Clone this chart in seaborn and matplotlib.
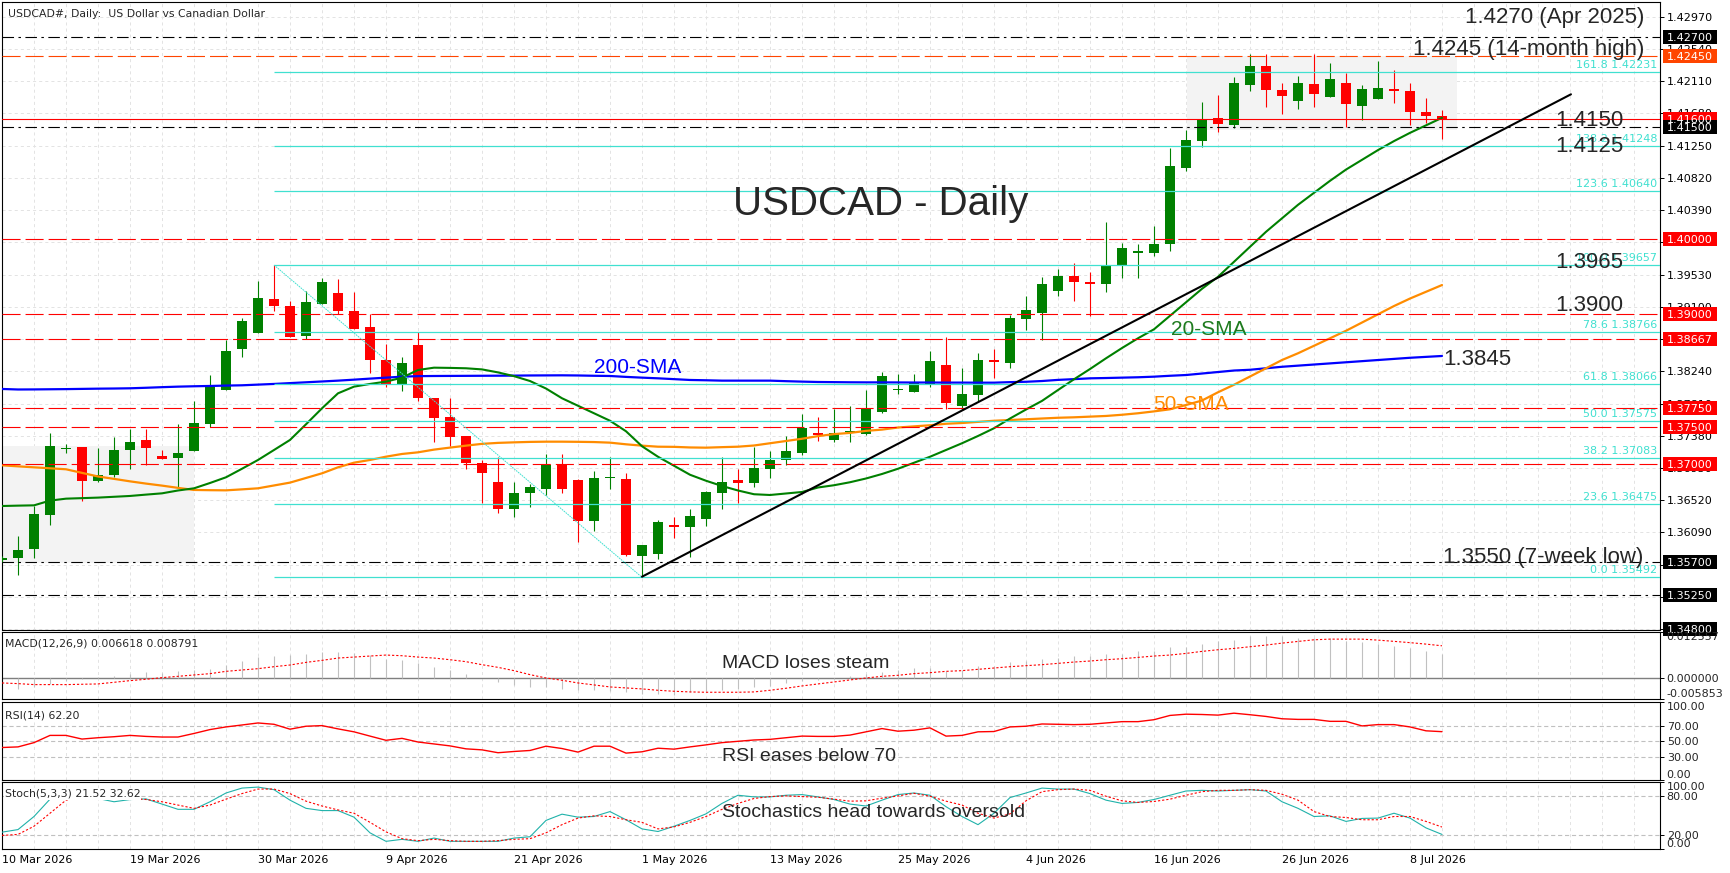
import numpy as np
import pandas as pd
import matplotlib
matplotlib.use("Agg")
import matplotlib.pyplot as plt
import matplotlib.transforms as mtransforms
from matplotlib.patches import Rectangle
import seaborn as sns

sns.set_theme(style="white")
plt.rcParams['font.family'] = ['DejaVu Sans']
plt.rcParams['lines.scale_dashes'] = False

# ---------------- data ----------------
date_labels = ["10 Mar 2026", "19 Mar 2026", "30 Mar 2026", "9 Apr 2026", "21 Apr 2026",
               "1 May 2026", "13 May 2026", "25 May 2026", "4 Jun 2026", "16 Jun 2026",
               "26 Jun 2026", "8 Jul 2026"]
date_label_bars = [0, 8, 16, 24, 32, 40, 48, 56, 64, 72, 80, 88]

opens = [1.35723, 1.35746, 1.35870, 1.36323, 1.37205, 1.37230, 1.36781, 1.36857, 1.37190, 1.37324,
         1.37106, 1.37088, 1.37181, 1.37542, 1.37995, 1.38542, 1.38755, 1.39204, 1.39111, 1.38715,
         1.39142, 1.39284, 1.39044, 1.38831, 1.38391, 1.38071, 1.38591, 1.37888, 1.37634, 1.37377,
         1.37021, 1.36763, 1.36398, 1.36612, 1.36674, 1.36999, 1.36790, 1.36247, 1.36816, 1.36798,
         1.35780, 1.35802, 1.36184, 1.36158, 1.36274, 1.36612, 1.36790, 1.36745, 1.36932, 1.37057,
         1.37146, 1.37421, 1.37323, 1.37426, 1.37404, 1.37702, 1.37991, 1.37960, 1.38057, 1.38324,
         1.37782, 1.37924, 1.38391, 1.38355, 1.38933, 1.39022, 1.39315, 1.39511, 1.39431, 1.39400,
         1.39644, 1.39813, 1.39822, 1.39933, 1.40956, 1.41316, 1.41614, 1.41525, 1.42063, 1.42312,
         1.41992, 1.41849, 1.42072, 1.41894, 1.42089, 1.41783, 1.41867, 1.42000, 1.41978, 1.41703,
         1.41645]
highs = [1.35780, 1.36043, 1.36443, 1.37422, 1.37270, 1.37235, 1.37213, 1.37359, 1.37470, 1.37470,
         1.37190, 1.37537, 1.37844, 1.38191, 1.38657, 1.38951, 1.39449, 1.39658, 1.39178, 1.39315,
         1.39484, 1.39467, 1.39298, 1.39000, 1.38600, 1.38435, 1.38764, 1.37888, 1.37888, 1.37377,
         1.37057, 1.37092, 1.36763, 1.36732, 1.37137, 1.37137, 1.36798, 1.36910, 1.37092, 1.36888,
         1.35922, 1.36256, 1.36291, 1.36398, 1.36643, 1.37092, 1.36937, 1.37234, 1.37177, 1.37377,
         1.37670, 1.37634, 1.37733, 1.37777, 1.37991, 1.38235, 1.38204, 1.38204, 1.38515, 1.38693,
         1.38288, 1.38488, 1.38537, 1.38991, 1.39244, 1.39502, 1.39604, 1.39680, 1.39560, 1.40227,
         1.39947, 1.39938, 1.40178, 1.41223, 1.41458, 1.41836, 1.41925, 1.42160, 1.42467, 1.42467,
         1.42089, 1.42183, 1.42467, 1.42356, 1.42223, 1.42058, 1.42378, 1.42258, 1.42089, 1.41889,
         1.41725]
lows = [1.35700, 1.35523, 1.35754, 1.36190, 1.37146, 1.36515, 1.36768, 1.36835, 1.36935, 1.36986,
        1.37075, 1.36692, 1.37181, 1.37493, 1.37995, 1.38435, 1.38755, 1.39049, 1.38702, 1.38671,
        1.39142, 1.39004, 1.38800, 1.38222, 1.38035, 1.37982, 1.37844, 1.37301, 1.37246, 1.36941,
        1.36488, 1.36345, 1.36301, 1.36425, 1.36585, 1.36621, 1.35967, 1.36113, 1.36665, 1.35776,
        1.35492, 1.35731, 1.36020, 1.35767, 1.36176, 1.36407, 1.36488, 1.36692, 1.36821, 1.36990,
        1.37124, 1.37313, 1.37301, 1.37293, 1.37390, 1.37679, 1.37937, 1.37960, 1.38026, 1.37733,
        1.37724, 1.37844, 1.38146, 1.38280, 1.38791, 1.38657, 1.39249, 1.39182, 1.38982, 1.39302,
        1.39489, 1.39489, 1.39782, 1.39849, 1.40916, 1.41227, 1.41436, 1.41480, 1.41983, 1.41760,
        1.41672, 1.41738, 1.41769, 1.41894, 1.41494, 1.41591, 1.41867, 1.41823, 1.41525, 1.41547,
        1.41338]
closes = [1.35750, 1.35857, 1.36337, 1.37244, 1.37222, 1.36781, 1.36857, 1.37190, 1.37297, 1.37222,
          1.37075, 1.37146, 1.37550, 1.38026, 1.38511, 1.38915, 1.39218, 1.39115, 1.38702, 1.39164,
          1.39431, 1.39049, 1.38809, 1.38395, 1.38071, 1.38346, 1.37888, 1.37621, 1.37368, 1.37021,
          1.36888, 1.36407, 1.36612, 1.36692, 1.36990, 1.36665, 1.36247, 1.36812, 1.36825, 1.35789,
          1.35922, 1.36224, 1.36158, 1.36309, 1.36634, 1.36759, 1.36745, 1.36945, 1.37057, 1.37177,
          1.37479, 1.37390, 1.37421, 1.37444, 1.37746, 1.38177, 1.38004, 1.38102, 1.38377, 1.37813,
          1.37937, 1.38391, 1.38360, 1.38946, 1.39058, 1.39404, 1.39511, 1.39435, 1.39409, 1.39653,
          1.39884, 1.39849, 1.39935, 1.40978, 1.41325, 1.41600, 1.41534, 1.42089, 1.42312, 1.41992,
          1.41916, 1.42089, 1.41934, 1.42138, 1.41800, 1.42005, 1.42018, 1.41983, 1.41703, 1.41649,
          1.41600]

sma20 = [1.36443, 1.36448, 1.36452, 1.36515, 1.36541, 1.36548, 1.36555, 1.36566, 1.36577, 1.36595,
         1.36612, 1.36650, 1.36679, 1.36750, 1.36826, 1.36940, 1.37057, 1.37190, 1.37324, 1.37533,
         1.37746, 1.37946, 1.38035, 1.38071, 1.38102, 1.38155, 1.38257, 1.38288, 1.38285, 1.38280,
         1.38265, 1.38225, 1.38175, 1.38110, 1.38010, 1.37880, 1.37780, 1.37680, 1.37580, 1.37440,
         1.37240, 1.37100, 1.36980, 1.36860, 1.36780, 1.36710, 1.36650, 1.36600, 1.36590, 1.36610,
         1.36630, 1.36690, 1.36720, 1.36760, 1.36810, 1.36870, 1.36940, 1.37020, 1.37100, 1.37190,
         1.37280, 1.37377, 1.37480, 1.37610, 1.37730, 1.37845, 1.37990, 1.38133, 1.38270, 1.38413,
         1.38550, 1.38680, 1.38800, 1.38980, 1.39160, 1.39340, 1.39500, 1.39700, 1.39900, 1.40100,
         1.40280, 1.40460, 1.40620, 1.40780, 1.40930, 1.41060, 1.41190, 1.41310, 1.41420, 1.41520,
         1.41620]
sma50 = [1.36986, 1.36972, 1.36959, 1.36946, 1.36933, 1.36885, 1.36837, 1.36805, 1.36772, 1.36742,
         1.36715, 1.36685, 1.36657, 1.36654, 1.36652, 1.36665, 1.36679, 1.36717, 1.36755, 1.36817,
         1.36879, 1.36959, 1.37021, 1.37057, 1.37101, 1.37137, 1.37159, 1.37195, 1.37222, 1.37248,
         1.37272, 1.37285, 1.37292, 1.37298, 1.37301, 1.37301, 1.37299, 1.37296, 1.37288, 1.37266,
         1.37248, 1.37234, 1.37232, 1.37224, 1.37221, 1.37228, 1.37234, 1.37250, 1.37280, 1.37310,
         1.37340, 1.37375, 1.37402, 1.37418, 1.37445, 1.37462, 1.37490, 1.37505, 1.37520, 1.37540,
         1.37550, 1.37565, 1.37580, 1.37590, 1.37600, 1.37610, 1.37620, 1.37626, 1.37635, 1.37644,
         1.37660, 1.37680, 1.37705, 1.37733, 1.37790, 1.37850, 1.37960, 1.38060, 1.38170, 1.38280,
         1.38390, 1.38480, 1.38580, 1.38680, 1.38780, 1.38890, 1.39000, 1.39110, 1.39210, 1.39300,
         1.39390]
sma200 = [1.38004, 1.37997, 1.37998, 1.38000, 1.38002, 1.38005, 1.38008, 1.38010, 1.38013, 1.38020,
          1.38028, 1.38035, 1.38040, 1.38044, 1.38049, 1.38053, 1.38062, 1.38071, 1.38082, 1.38093,
          1.38104, 1.38115, 1.38128, 1.38142, 1.38155, 1.38168, 1.38175, 1.38177, 1.38178, 1.38179,
          1.38180, 1.38181, 1.38182, 1.38184, 1.38185, 1.38186, 1.38184, 1.38180, 1.38177, 1.38165,
          1.38155, 1.38146, 1.38135, 1.38124, 1.38120, 1.38115, 1.38115, 1.38115, 1.38115, 1.38108,
          1.38102, 1.38097, 1.38095, 1.38093, 1.38092, 1.38092, 1.38091, 1.38090, 1.38090, 1.38089,
          1.38089, 1.38088, 1.38088, 1.38095, 1.38100, 1.38110, 1.38125, 1.38135, 1.38146, 1.38150,
          1.38155, 1.38160, 1.38168, 1.38180, 1.38190, 1.38210, 1.38230, 1.38250, 1.38260, 1.38280,
          1.38300, 1.38315, 1.38330, 1.38345, 1.38360, 1.38375, 1.38390, 1.38405, 1.38420, 1.38432,
          1.38444]

macd_main = [-0.00136, -0.00290, -0.00245, -0.00154, -0.00073, -0.00027, 0.00020, 0.00064, 0.00118, 0.00154,
             0.00145, 0.00181, 0.00209, 0.00254, 0.00363, 0.00454, 0.00563, 0.00608, 0.00635, 0.00662,
             0.00698, 0.00698, 0.00680, 0.00635, 0.00526, 0.00480, 0.00399, 0.00309, 0.00209, 0.00100,
             0.00000, -0.00118, -0.00200, -0.00254, -0.00254, -0.00290, -0.00335, -0.00335, -0.00345, -0.00390,
             -0.00445, -0.00435, -0.00454, -0.00390, -0.00363, -0.00318, -0.00299, -0.00254, -0.00209, -0.00136,
             -0.00091, -0.00045, -0.00019, 0.00064, 0.00118, 0.00154, 0.00226, 0.00270, 0.00280, 0.00200,
             0.00220, 0.00330, 0.00318, 0.00426, 0.00454, 0.00516, 0.00544, 0.00608, 0.00608, 0.00653,
             0.00662, 0.00725, 0.00725, 0.00843, 0.00843, 0.00934, 0.00998, 0.01043, 0.01133, 0.01133,
             0.01133, 0.01105, 0.01105, 0.01088, 0.00998, 0.00970, 0.00934, 0.00879, 0.00816, 0.00744,
             0.006618]
macd_signal = [-0.00136, -0.00154, -0.00181, -0.00181, -0.00181, -0.00172, -0.00163, -0.00118, -0.00073, -0.00036,
               0.00009, 0.00045, 0.00082, 0.00118, 0.00181, 0.00218, 0.00254, 0.00308, 0.00354, 0.00426,
               0.00481, 0.00544, 0.00571, 0.00599, 0.00626, 0.00608, 0.00571, 0.00544, 0.00499, 0.00445,
               0.00363, 0.00290, 0.00200, 0.00091, 0.00000, -0.00063, -0.00136, -0.00190, -0.00245, -0.00272,
               -0.00299, -0.00336, -0.00363, -0.00381, -0.00390, -0.00390, -0.00390, -0.00381, -0.00336, -0.00281,
               -0.00218, -0.00163, -0.00109, -0.00054, 0.00000, 0.00045, 0.00073, 0.00118, 0.00145, 0.00181,
               0.00200, 0.00236, 0.00272, 0.00308, 0.00336, 0.00363, 0.00399, 0.00435, 0.00463, 0.00499,
               0.00526, 0.00562, 0.00599, 0.00626, 0.00671, 0.00726, 0.00771, 0.00807, 0.00853, 0.00898,
               0.00952, 0.00998, 0.01043, 0.01061, 0.01061, 0.01061, 0.01034, 0.01000, 0.00965, 0.00925,
               0.008791]
rsi = [41.8, 42.6, 48.1, 57.4, 57.4, 52.7, 54.4, 55.7, 57.4, 56.1,
       55.3, 55.3, 59.9, 64.9, 68.3, 70.8, 73.4, 71.7, 65.4, 69.2,
       70.0, 65.8, 62.0, 56.5, 51.1, 53.6, 48.9, 46.4, 43.9, 40.1,
       38.8, 35.1, 36.7, 38.0, 43.5, 40.5, 35.9, 43.5, 43.5, 34.6,
       36.3, 40.9, 39.7, 42.6, 45.2, 48.1, 49.8, 51.5, 52.3, 54.4,
       56.5, 56.1, 56.1, 57.8, 62.0, 66.2, 62.8, 64.1, 67.1, 56.5,
       57.4, 62.0, 62.4, 68.3, 69.2, 72.1, 71.7, 71.3, 71.7, 73.4,
       75.1, 75.1, 77.6, 83.1, 84.7, 84.3, 83.5, 86.0, 84.0, 81.8,
       78.8, 78.0, 78.0, 75.5, 75.5, 69.6, 71.3, 71.3, 68.3, 63.3,
       62.2]
stoch_k = [24.9, 28.8, 48.5, 74.6, 83.0, 80.0, 75.6, 70.7, 74.0, 75.0,
           67.2, 59.3, 59.3, 70.7, 83.9, 91.3, 92.8, 88.9, 73.1, 60.8,
           57.4, 57.4, 47.5, 23.9, 11.1, 14.1, 11.1, 16.0, 11.1, 11.1,
           11.1, 11.1, 16.0, 18.0, 42.6, 52.0, 47.5, 48.5, 55.9, 43.6,
           29.8, 25.9, 33.8, 42.6, 52.5, 68.2, 80.5, 78.0, 78.0, 80.5,
           81.5, 78.0, 74.1, 67.2, 64.3, 73.1, 81.5, 83.9, 80.5, 63.3,
           48.5, 36.2, 53.4, 77.0, 83.9, 91.3, 89.8, 89.8, 83.0, 73.1,
           68.2, 69.7, 74.1, 80.5, 86.9, 87.9, 86.9, 87.9, 88.9, 86.9,
           70.7, 60.8, 48.5, 49.5, 41.1, 45.6, 46.1, 53.4, 46.1, 31.3,
           21.52]
stoch_d = [20.0, 21.5, 33.8, 53.4, 73.1, 78.0, 79.0, 78.0, 75.6, 74.1,
           70.7, 65.7, 60.8, 65.7, 74.6, 83.0, 89.8, 89.8, 83.0, 71.6,
           64.3, 58.4, 53.4, 39.7, 25.4, 15.1, 12.1, 14.1, 12.1, 11.1,
           11.1, 12.1, 14.1, 15.1, 23.9, 36.2, 46.1, 49.5, 48.5, 43.6,
           39.7, 29.8, 32.8, 39.7, 48.5, 59.3, 68.2, 75.6, 78.5, 79.5,
           78.5, 77.5, 74.6, 71.6, 72.1, 76.1, 79.5, 83.4, 79.0, 71.6,
           65.7, 53.4, 46.1, 52.5, 72.1, 85.9, 88.9, 89.8, 87.9, 79.0,
           72.1, 69.7, 71.1, 74.6, 80.5, 85.9, 87.9, 87.9, 88.9, 87.9,
           82.0, 73.1, 55.9, 48.5, 47.0, 43.6, 43.6, 48.5, 48.5, 41.1,
           32.62]

fib_ratios = [0.0, 23.6, 38.2, 50.0, 61.8, 78.6, 100.0, 123.6, 138.2, 161.8]
fib_prices = [1.35492, 1.36475, 1.37083, 1.37575, 1.38066, 1.38766, 1.39657, 1.40640, 1.41248, 1.42231]
fib_start_bar = 17
fib_end_bar = 40

red_levels = [1.4000, 1.3900, 1.38667, 1.3775, 1.3750, 1.3700]
black_levels = [1.4270, 1.4150, 1.3570, 1.3525]
orange_levels = [1.4245]
bid_level = 1.4160

trend_bars = [40, 98.06]
trend_prices = [1.3550, 1.41934]

zones = [(-1.0, 12.02, 1.35679, 1.37244), (74.05, 90.95, 1.41458, 1.42445)]

price_boxes = [(1.4270, 'black'), (1.4245, '#FF4500'), (1.4160, '#FF0000'), (1.4150, 'black'),
               (1.4000, '#FF0000'), (1.3900, '#FF0000'), (1.38667, '#FF0000'), (1.3775, '#FF0000'),
               (1.3750, '#FF0000'), (1.3700, '#FF0000'), (1.3570, 'black'), (1.3525, 'black'),
               (1.3480, 'black')]

# ---------------- layout ----------------
W, H = 1730, 873
fig = plt.figure(figsize=(W / 100, H / 100), dpi=100)
fig.patch.set_facecolor('white')

def px_axes(x0, y0, x1, y1):
    return fig.add_axes([x0 / W, 1 - y1 / H, (x1 - x0) / W, (y1 - y0) / H])

ax = px_axes(2, 2, 1660, 629.5)
ax_m = px_axes(2, 632, 1660, 699.4)
ax_r = px_axes(2, 702.3, 1660, 780)
ax_s = px_axes(2, 782.3, 1660, 848.7)
axes = [ax, ax_m, ax_r, ax_s]

XMAX = 103.625
bars = np.arange(len(opens))
df = pd.DataFrame({'bar': bars, 'open': opens, 'high': highs, 'low': lows, 'close': closes,
                   'sma20': sma20, 'sma50': sma50, 'sma200': sma200, 'macd': macd_main,
                   'signal': macd_signal, 'rsi': rsi, 'k': stoch_k, 'd': stoch_d})

GREEN = '#008000'
RED = '#FF0000'
TURQ = '#40E0D0'
GRID = '#E3E3E3'
DASH = (0, (13, 3.6))
DASHDOT = (0, (8.3, 3.2, 1.8, 3.2))
DOT = (0, (1.6, 1.4))
GRIDDASH = (0, (2.2, 2.2))

ticks_main = np.round(1.3480 + 0.0043 * np.arange(20), 5)

for a in axes:
    a.set_xlim(0, XMAX)
    a.set_facecolor('white')
    for sp in a.spines.values():
        sp.set_color('black')
        sp.set_linewidth(0.8)
    for b in range(0, 104, 2):
        a.axvline(b, color=GRID, lw=0.7, ls=GRIDDASH, zorder=0.2)
    a.yaxis.tick_right()
    a.tick_params(axis='y', direction='out', length=3, width=0.7, pad=2, labelsize=8, colors='black')
    if a is not ax_s:
        a.tick_params(axis='x', bottom=False, labelbottom=False)

# ---------------- main price panel ----------------
ax.set_ylim(1.34796, 1.43165)
for t in ticks_main:
    ax.axhline(t, color=GRID, lw=0.7, ls=GRIDDASH, zorder=0.2)

for x0, x1, y0, y1 in zones:
    ax.add_patch(Rectangle((x0, y0), x1 - x0, y1 - y0, facecolor='#F3F3F3', edgecolor='none', zorder=0.5))

col = np.where(df['close'] >= df['open'], GREEN, RED)
ax.vlines(df['bar'], df['low'], df['high'], colors=col, lw=0.8, zorder=3)
body_bottom = np.minimum(df['open'], df['close'])
body_h = np.maximum(np.abs(df['close'] - df['open']), 0.00014)
ax.bar(df['bar'], body_h, bottom=body_bottom, width=0.66, color=col, linewidth=0, zorder=3.1)

sns.lineplot(data=df, x='bar', y='sma200', ax=ax, color='#0000FF', lw=1.6, errorbar=None, zorder=4)
sns.lineplot(data=df, x='bar', y='sma50', ax=ax, color='#FF8C00', lw=1.6, errorbar=None, zorder=4)
sns.lineplot(data=df, x='bar', y='sma20', ax=ax, color=GREEN, lw=1.5, errorbar=None, zorder=4)

for lv in red_levels:
    ax.axhline(lv, color=RED, lw=0.8, ls=DASH, zorder=5)
for lv in orange_levels:
    ax.axhline(lv, color='#FF4500', lw=0.8, ls=DASH, zorder=5)
for lv in black_levels:
    ax.axhline(lv, color='black', lw=0.8, ls=DASHDOT, zorder=5)
ax.axhline(bid_level, color=RED, lw=0.8, zorder=5)

ax.hlines(fib_prices, fib_start_bar, XMAX, colors=TURQ, lw=0.9, zorder=5)
ax.plot([fib_start_bar, fib_end_bar], [fib_prices[6], fib_prices[0]], color=TURQ, lw=0.7,
        ls=(0, (1.2, 0.6)), zorder=5)
for r, p in zip(fib_ratios, fib_prices):
    ax.text(103.44, p + 0.00053, f"{r:.1f} {p:.5f}", ha='right', va='baseline', color=TURQ,
            fontsize=8, zorder=6)

ax.plot(trend_bars, trend_prices, color='black', lw=1.5, zorder=5)

ax.set_yticks(ticks_main)
ax.set_yticklabels([f"{t:.5f}" for t in ticks_main])
ax.set_xlabel('')
ax.set_ylabel('')

AF = ['Liberation Sans', 'DejaVu Sans']
ax.text(102.64, 1.42889, "1.4270 (Apr 2025)", ha='right', va='baseline', fontsize=16, family=AF, zorder=7)
ax.text(102.64, 1.42458, "1.4245 (14-month high)", ha='right', va='baseline', fontsize=16, family=AF, zorder=7)
ax.text(97.1, 1.41511, "1.4150", ha='left', va='baseline', fontsize=16, family=AF, zorder=7)
ax.text(97.1, 1.41168, "1.4125", ha='left', va='baseline', fontsize=16, family=AF, zorder=7)
ax.text(97.1, 1.39613, "1.3965", ha='left', va='baseline', fontsize=16, family=AF, zorder=7)
ax.text(97.1, 1.39048, "1.3900", ha='left', va='baseline', fontsize=16, family=AF, zorder=7)
ax.text(90.08, 1.38324, "1.3845", ha='left', va='baseline', fontsize=16, family=AF, zorder=7)
ax.text(90.08, 1.35679, "1.3550 (7-week low)", ha='left', va='baseline', fontsize=16, family=AF, zorder=7)
ax.text(64.14, 1.40324, "USDCAD - Daily", ha='right', va='baseline', fontsize=29, family=AF, zorder=7)
ax.text(37.0, 1.38221, "200-SMA", ha='left', va='baseline', fontsize=15, family=AF, color='#0000FF', zorder=7)
ax.text(73.04, 1.38724, "20-SMA", ha='left', va='baseline', fontsize=15, family=AF, color='#1E7B1E', zorder=7)
ax.text(71.96, 1.37723, "50-SMA", ha='left', va='baseline', fontsize=15, family=AF, color='#FF8C00', zorder=7)

blend = mtransforms.blended_transform_factory(ax.transAxes, ax.transData)
bx0 = (1662.7 - 2) / 1658
bw = 54 / 1658
bh = 14 / 7498
for p, c in price_boxes:
    ax.add_patch(Rectangle((bx0, p - bh / 2), bw, bh, transform=blend, facecolor=c, edgecolor='none',
                           clip_on=False, zorder=20))
    ax.text(bx0 + bw / 2, p, f"{p:.5f}", transform=blend, ha='center', va='center_baseline',
            color='white', fontsize=8, zorder=21, clip_on=False)

# ---------------- MACD ----------------
ax_m.set_ylim(-0.005853, 0.012557)
ax_m.axhline(0, color='#7F7F7F', lw=1.0, zorder=1)
ax_m.vlines(df['bar'], 0, df['macd'], colors='#C0C0C0', lw=0.8, zorder=2)
sns.lineplot(data=df, x='bar', y='signal', ax=ax_m, color=RED, lw=0.8, ls=DOT, errorbar=None, zorder=3)
ax_m.set_yticks([-0.005853, 0.0, 0.012557])
ax_m.set_yticklabels([])
bm = mtransforms.blended_transform_factory(ax_m.transAxes, ax_m.transData)
LX = 1664.7 / 1658
ax_m.text(LX, 0.012557, "0.012557", transform=bm, ha='left', va='top', fontsize=8, clip_on=False)
ax_m.text(LX, 0.0, "0.000000", transform=bm, ha='left', va='center_baseline', fontsize=8, clip_on=False)
ax_m.text(LX, -0.005853, "-0.005853", transform=bm, ha='left', va='bottom', fontsize=8, clip_on=False)
ax_m.text(45.0, 0.00264, "MACD loses steam", ha='left', va='baseline', fontsize=14, family=AF, zorder=7)

# ---------------- RSI ----------------
ax_r.set_ylim(0, 100)
for lv in [30, 50, 70]:
    ax_r.axhline(lv, color='#C0C0C0', lw=0.8, ls=(0, (3, 2)), zorder=1)
sns.lineplot(data=df, x='bar', y='rsi', ax=ax_r, color=RED, lw=1.0, errorbar=None, zorder=3)
ax_r.set_yticks([0, 30, 50, 70, 100])
ax_r.set_yticklabels([])
br = mtransforms.blended_transform_factory(ax_r.transAxes, ax_r.transData)
for v, va in [(100, 'top'), (70, 'center_baseline'), (50, 'center_baseline'), (30, 'center_baseline'), (0, 'bottom')]:
    ax_r.text(LX, v, f"{v:.2f}", transform=br, ha='left', va=va, fontsize=8, clip_on=False)
ax_r.text(45.0, 24.8, "RSI eases below 70", ha='left', va='baseline', fontsize=14, family=AF, zorder=7)

# ---------------- Stochastic ----------------
ax_s.set_ylim(0, 100)
for lv in [20, 80]:
    ax_s.axhline(lv, color='#C0C0C0', lw=0.8, ls=(0, (3, 2)), zorder=1)
sns.lineplot(data=df, x='bar', y='k', ax=ax_s, color='#20B2AA', lw=0.8, errorbar=None, zorder=3)
sns.lineplot(data=df, x='bar', y='d', ax=ax_s, color=RED, lw=0.8, ls=DOT, errorbar=None, zorder=3)
ax_s.set_yticks([0, 20, 80, 100])
ax_s.set_yticklabels([])
bs = mtransforms.blended_transform_factory(ax_s.transAxes, ax_s.transData)
for v, va in [(100, 'top'), (80, 'center_baseline'), (20, 'center_baseline'), (0, 'bottom')]:
    ax_s.text(LX, v, f"{v:.2f}", transform=bs, ha='left', va=va, fontsize=8, clip_on=False)
ax_s.text(45.0, 48.2, "Stochastics head towards oversold", ha='left', va='baseline', fontsize=14,
          family=AF, zorder=7)

ax_s.set_xticks(date_label_bars)
ax_s.set_xticklabels(date_labels, ha='left', fontsize=8)
ax_s.tick_params(axis='x', direction='out', length=3, width=0.7, pad=1.5, colors='black')

for a in axes:
    a.set_xlabel('')
    a.set_ylabel('')
    a.set_xlim(0, XMAX)

# ---------------- header texts ----------------
fig.text(7.7 / W, 1 - 13.4 / H, "USDCAD#, Daily:  US Dollar vs Canadian Dollar", ha='left',
         va='center_baseline', fontsize=7.8)
fig.text(5 / W, 1 - 643 / H, "MACD(12,26,9) 0.006618 0.008791", ha='left', va='center_baseline', fontsize=7.8)
fig.text(5 / W, 1 - 714 / H, "RSI(14) 62.20", ha='left', va='center_baseline', fontsize=7.8)
fig.text(5 / W, 1 - 793 / H, "Stoch(5,3,3) 21.52 32.62", ha='left', va='center_baseline', fontsize=7.8,
         bbox=dict(facecolor='white', edgecolor='none', pad=0.5))

fig.savefig("out.png", dpi=100, facecolor='white')
